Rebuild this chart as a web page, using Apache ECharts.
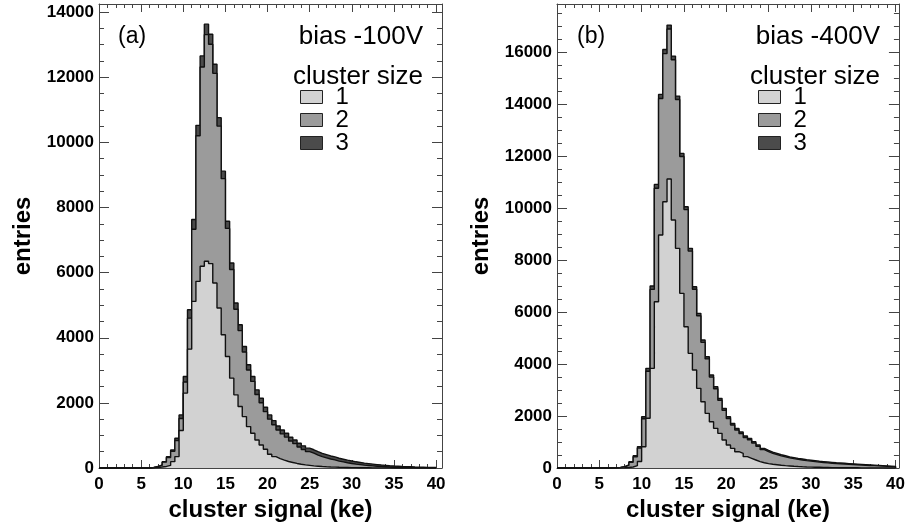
<!DOCTYPE html>
<html><head><meta charset="utf-8">
<script src="https://cdn.jsdelivr.net/npm/echarts@6/dist/echarts.min.js"></script>
<style>html,body{margin:0;padding:0;background:#fff}#c{width:908px;height:527px}</style>
</head><body><div id="c"></div>
<script>
// ---- data (entries per 0.5 ke bin, bins start at 0 ke) ----
const binWidth = 0.5;
const xMajorTicks = [0, 5, 10, 15, 20, 25, 30, 35, 40];
const panelTags = ['(a)', '(b)'];
const biasLabels = ['bias -100V', 'bias -400V'];
const legendTitle = 'cluster size';
const sizeNames = ['1', '2', '3'];

// panel (a) bias -100V
const size1A = [0,0,0,0,0,0,0,0,0,0,0,0,
  5,15,30,48,80,195,350,1150,2300,3650,5117,5733,6195,6349,6277,5682,4913,4092,3426,2759,2246,1887,1579,1272,1067,862,708,575,420,350,290,240,200,170,140,115,95,80,65,55,45,38,32,27,22,18,15,12,10,8,7,6,5,4,4,3,3,2,2,2,1,1,1,1,0,0,0,0];
const size2A = [0,0,0,0,0,0,0,0,0,0,0,0,
  10,27,54,132,243,319,493,371,340,952,2214,4470,6121,6962,6736,6438,5587,4795,3933,3339,2631,2333,1984,1737,1593,1393,1296,1156,1081,979,878,808,749,658,608,532,475,422,389,342,305,275,244,222,191,169,146,128,109,95,80,70,60,50,39,34,27,23,19,15,13,11,9,7,7,6,5,4];
const size3A = [0,0,0,0,0,0,0,0,0,0,0,0,
  0,3,8,15,25,40,70,110,170,260,300,320,340,320,310,280,260,230,220,200,190,180,170,160,150,145,140,135,130,127,124,121,118,116,114,112,110,108,106,103,100,97,94,91,87,83,79,75,71,67,63,59,55,51,47,43,40,37,34,31,28,25,22,20,17,14,12,10];

// panel (b) bias -400V
const size1B = [0,0,0,0,0,0,0,0,0,0,0,0,0,
  0,5,10,20,40,90,250,820,1911,3834,6396,8961,10242,11115,9538,8450,6718,5435,4411,3769,3064,2551,2102,1782,1525,1333,1077,885,756,628,564,436,372,308,243,200,170,145,125,105,90,78,66,56,48,41,35,30,26,22,19,16,14,12,10,9,8,7,6,5,4,4,3,3,2,2,2];
const size2B = [0,0,0,0,0,0,0,0,0,0,0,0,0,
  8,13,36,85,183,345,515,1074,1812,3036,4364,5251,5700,5773,6168,5727,5265,4505,3934,3105,2791,2282,2095,1715,1526,1273,1147,1021,897,835,760,737,713,651,590,506,462,419,391,362,338,311,294,276,260,243,230,216,201,191,180,169,157,150,143,135,127,119,111,103,95,86,78,69,61,52,43];
const size3B = [0,0,0,0,0,0,0,0,0,0,0,0,0,
  0,2,5,10,20,35,55,80,110,130,150,160,160,150,140,130,120,110,105,100,95,90,85,80,77,74,71,68,65,62,60,58,56,54,52,50,48,46,44,43,42,41,40,38,37,36,35,34,33,32,31,30,29,28,27,26,25,24,23,22,21,20,19,18,17,16,15];

// ---- styling ----
const FONT = '"Liberation Sans", Arial, Helvetica, sans-serif';
const fills = ['#d2d2d2', '#9b9b9b', '#4b4b4b'];
const axisColor = '#444';
const panels = [
  { left: 99, xMax: 40.7, yMax: 14250, sizes: [size1A, size2A, size3A], legendLeft: 300, textRight: 423, tagX: 118 },
  { left: 557, xMax: 40.4, yMax: 17850, sizes: [size1B, size2B, size3B], legendLeft: 758, textRight: 880, tagX: 577 }
];

// stacked (cumulative) step points: size1, size1+size2, size1+size2+size3
function cumulative(sizes, upto) {
  return sizes[0].map((_, i) => {
    let s = 0;
    for (let j = 0; j <= upto; j++) s += sizes[j][i];
    return s;
  });
}
function toPoints(arr) {
  const pts = arr.map((v, i) => [i * binWidth, v]);
  pts.push([arr.length * binWidth, 0]);
  return pts;
}

const grid = [], xAxis = [], yAxis = [], series = [], legend = [], graphic = [];
panels.forEach((p, g) => {
  grid.push({ left: p.left, top: 4, width: 343, height: 464 });
  const base = g * 4;
  const line = { show: true, onZero: false, lineStyle: { color: axisColor, width: 1 } };
  const noLine = { show: false, onZero: false };
  const tick = len => ({ show: true, inside: true, length: len, lineStyle: { color: axisColor, width: 1 } });
  xAxis.push({
    gridIndex: g, type: 'value', position: 'bottom', min: 0, max: p.xMax, interval: 5,
    axisLine: line, axisTick: tick(8), splitLine: { show: false },
    axisLabel: { fontSize: 17, fontWeight: 'bold', color: '#000', fontFamily: FONT, margin: 8,
      formatter: v => xMajorTicks.includes(v) ? String(v) : '' },
    name: 'cluster signal (ke)', nameLocation: 'middle', nameGap: 30,
    nameTextStyle: { fontSize: 24, fontWeight: 'bold', color: '#000', fontFamily: FONT }
  });
  xAxis.push({ gridIndex: g, type: 'value', position: 'bottom', min: 0, max: p.xMax, interval: 1,
    axisLine: noLine, axisTick: tick(4), axisLabel: { show: false }, splitLine: { show: false } });
  xAxis.push({ gridIndex: g, type: 'value', position: 'top', min: 0, max: p.xMax, interval: 5,
    axisLine: line, axisTick: tick(8), axisLabel: { show: false }, splitLine: { show: false } });
  xAxis.push({ gridIndex: g, type: 'value', position: 'top', min: 0, max: p.xMax, interval: 1,
    axisLine: noLine, axisTick: tick(4), axisLabel: { show: false }, splitLine: { show: false } });
  yAxis.push({
    gridIndex: g, type: 'value', position: 'left', min: 0, max: p.yMax, interval: 2000,
    axisLine: line, axisTick: tick(10), splitLine: { show: false },
    axisLabel: { fontSize: 17, fontWeight: 'bold', color: '#000', fontFamily: FONT, margin: 5,
      formatter: v => (v % 2000 === 0 ? String(v) : '') },
    name: 'entries', nameLocation: 'middle', nameGap: 64,
    nameTextStyle: { fontSize: 24, fontWeight: 'bold', color: '#000', fontFamily: FONT }
  });
  yAxis.push({ gridIndex: g, type: 'value', position: 'left', min: 0, max: p.yMax, interval: 500,
    axisLine: noLine, axisTick: tick(5), axisLabel: { show: false }, splitLine: { show: false } });
  yAxis.push({ gridIndex: g, type: 'value', position: 'right', min: 0, max: p.yMax, interval: 2000,
    axisLine: line, axisTick: tick(10), axisLabel: { show: false }, splitLine: { show: false } });
  yAxis.push({ gridIndex: g, type: 'value', position: 'right', min: 0, max: p.yMax, interval: 500,
    axisLine: noLine, axisTick: tick(5), axisLabel: { show: false }, splitLine: { show: false } });

  // draw the largest cumulative area first, smaller ones over it
  [2, 1, 0].forEach((i, order) => {
    series.push({
      type: 'line', name: sizeNames[i], data: toPoints(cumulative(p.sizes, i)),
      xAxisIndex: base, yAxisIndex: base, step: 'end', symbol: 'none', showSymbol: false, silent: true,
      lineStyle: { width: 1.4, color: '#111' }, itemStyle: { color: fills[i] },
      areaStyle: { color: fills[i], opacity: 1 }, z: 2 + order
    });
  });

  legend.push({
    left: p.legendLeft, top: 85, orient: 'vertical', itemWidth: 22, itemHeight: 13, itemGap: -1,
    icon: 'rect', selectedMode: false, padding: 0,
    data: sizeNames.map((n, i) => ({ name: n, itemStyle: { color: fills[i], borderColor: '#222', borderWidth: 1 } })),
    textStyle: { fontSize: 24, color: '#000', fontFamily: FONT, padding: [0, 0, 0, 8] }
  });

  graphic.push({ type: 'text', x: p.tagX, y: 37, style: { text: panelTags[g], font: '23px ' + FONT, fill: '#000', verticalAlign: 'middle' } });
  graphic.push({ type: 'text', x: p.textRight, y: 37, style: { text: biasLabels[g], font: '26px ' + FONT, fill: '#000', align: 'right', verticalAlign: 'middle' } });
  graphic.push({ type: 'text', x: p.textRight, y: 77, style: { text: legendTitle, font: '26px ' + FONT, fill: '#000', align: 'right', verticalAlign: 'middle' } });
});

const chart = echarts.init(document.getElementById('c'), null, { renderer: 'canvas' });
chart.setOption({ animation: false, backgroundColor: '#fff', grid, xAxis, yAxis, series, legend, graphic });
</script></body></html>
